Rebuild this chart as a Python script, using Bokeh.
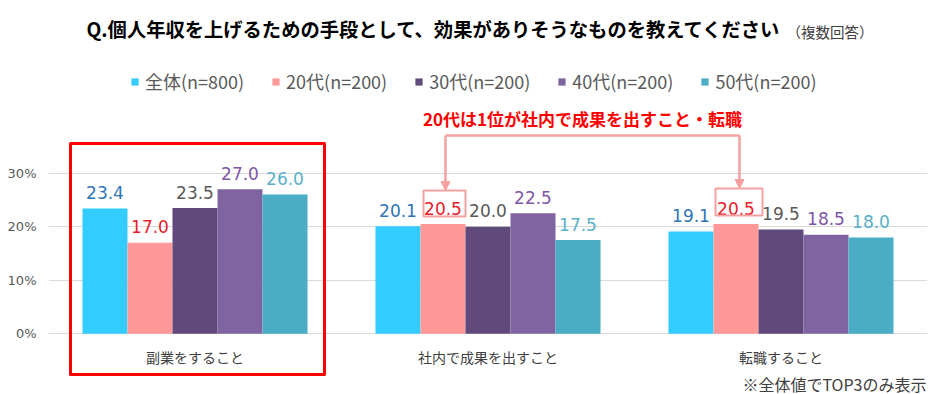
from bokeh.plotting import figure
from bokeh.models import (ColumnDataSource, FactorRange, Range1d, FixedTicker,
                          PrintfTickFormatter, Arrow, NormalHead)
from bokeh.transform import dodge
from bokeh.core.properties import value
from bokeh.embed import file_html
from bokeh.resources import INLINE

# ---------------- data ----------------
categories = ["副業をすること", "社内で成果を出すこと", "転職すること"]
series = ["全体(n=800)", "20代(n=200)", "30代(n=200)", "40代(n=200)", "50代(n=200)"]
zentai = [23.4, 20.1, 19.1]
age20 = [17.0, 20.5, 20.5]
age30 = [23.5, 20.0, 19.5]
age40 = [27.0, 22.5, 18.5]
age50 = [26.0, 17.5, 18.0]
y_ticks = [0, 10, 20, 30]

title_text = "Q.個人年収を上げるための手段として、効果がありそうなものを教えてください"
subtitle_text = "（複数回答）"
callout_text = "20代は1位が社内で成果を出すこと・転職"
footnote_text = "※全体値でTOP3のみ表示"

bar_colors = ["#33CCFF", "#FF9999", "#604A7B", "#8064A2", "#4BACC6"]
label_colors = ["#2E75B6", "#E8202A", "#595959", "#7F56A8", "#5AB0CA"]
pink = "#F7A0A0"
JP = "Noto Sans CJK JP"

# ---------------- layout helpers ----------------
W, H = 929, 394
LEFT, RIGHT = 48, 2
PAGE_X0, PAGE_Y0 = 0, 0
FRAME_W = W - LEFT - RIGHT
Y0_PAGE = 333.3
PX_PER_UNIT = 5.353


def py2y(py):
    return (Y0_PAGE - py) / PX_PER_UNIT


def px2x(px):
    return (px - PAGE_X0 - LEFT) / FRAME_W * 3


p = figure(width=W, height=H, output_backend="svg", toolbar_location=None,
           x_range=FactorRange(*categories, range_padding=0),
           y_range=Range1d(py2y(PAGE_Y0 + H), py2y(PAGE_Y0)),
           min_border_left=LEFT, min_border_right=RIGHT,
           min_border_top=0, min_border_bottom=0)
p.outline_line_color = None
p.background_fill_color = "white"
p.border_fill_color = "white"

p.xaxis.visible = False
p.xgrid.visible = False
p.yaxis.ticker = FixedTicker(ticks=y_ticks)
p.yaxis.formatter = PrintfTickFormatter(format="%d%%")
p.yaxis.axis_line_color = None
p.yaxis.major_tick_line_color = None
p.yaxis.minor_tick_line_color = None
p.yaxis.major_tick_out = 0
p.yaxis.major_tick_in = 0
p.yaxis.minor_tick_out = 0
p.yaxis.major_label_standoff = 12
p.yaxis.major_label_text_font = "DejaVu Sans"
p.yaxis.major_label_text_font_size = "13px"
p.yaxis.major_label_text_color = "#595959"
p.ygrid.ticker = FixedTicker(ticks=y_ticks)
p.ygrid.grid_line_color = "#D9D9D9"
p.ygrid.grid_line_width = 1

data = dict(cat=categories)
all_series = [zentai, age20, age30, age40, age50]
for j, vals in enumerate(all_series):
    data[f"s{j}"] = vals
    data[f"t{j}"] = [f"{v:.1f}" for v in vals]
src = ColumnDataSource(data)

group_w = 0.768
bw = group_w / len(series)
offsets = [(j - (len(series) - 1) / 2) * bw for j in range(len(series))]

for j in range(len(series)):
    p.vbar(x=dodge("cat", offsets[j], range=p.x_range), top=f"s{j}", width=bw,
           source=src, fill_color=bar_colors[j], line_color=None,
           legend_label=series[j])
for j in range(len(series)):
    p.text(x=dodge("cat", offsets[j], range=p.x_range), y=f"s{j}", text=f"t{j}",
           source=src, text_align="center", text_baseline="alphabetic",
           y_offset=-16, text_font=value("DejaVu Sans"),
           text_font_size="17px", text_color=label_colors[j])

# category labels
p.text(x="cat", y=0, text="cat", source=src, y_offset=23,
       text_align="center", text_baseline="middle",
       text_font=value(JP), text_font_size="14px", text_color="#404040")

# title
p.text(x=[px2x(781)], y=[py2y(28)], text=[title_text], text_align="right",
       text_baseline="middle", text_font=value(JP), text_font_style="bold",
       text_font_size="19.3px", text_color="#000000")
p.text(x=[px2x(786)], y=[py2y(31)], text=[subtitle_text], text_align="left",
       text_baseline="middle", text_font=value(JP),
       text_font_size="14.5px", text_color="#404040")

# footnote
p.text(x=[px2x(926)], y=[py2y(383)], text=[footnote_text], text_align="right",
       text_baseline="middle", text_font=value(JP),
       text_font_size="16px", text_color="#404040")

# red highlight box around first category
p.quad(left=[px2x(70)], right=[px2x(324)], top=[py2y(143)], bottom=[py2y(374)],
       fill_color=None, line_color="#FF0000", line_width=3, line_join="round")

# callout
p.text(x=[px2x(582)], y=[py2y(118)], text=[callout_text], text_align="center",
       text_baseline="middle", text_font=value(JP), text_font_style="bold",
       text_font_size="17px", text_color="#FF0000")

# boxes around 20代 labels in categories 2 and 3
p.quad(left=[px2x(423), px2x(715)], right=[px2x(465), px2x(762)],
       top=[py2y(190), py2y(188)], bottom=[py2y(216), py2y(215)],
       fill_color=None, line_color=pink, line_width=2)

# connector with arrows
xl, xr = px2x(445), px2x(739)
yh = py2y(135)
p.line(x=[xl, xr], y=[yh, yh], line_color=pink, line_width=2.5)
for xa, yt in [(xl, py2y(190)), (xr, py2y(188))]:
    p.add_layout(Arrow(end=NormalHead(size=9, fill_color=pink, line_color=pink),
                       x_start=xa, y_start=yh, x_end=xa, y_end=yt,
                       line_color=pink, line_width=2.5))

leg = p.legend[0]
leg.orientation = "horizontal"
leg.location = (82, H - 94)
leg.padding = 0
leg.margin = 0
leg.spacing = 27
leg.border_line_alpha = 0
leg.background_fill_alpha = 0
leg.glyph_width = 9
leg.glyph_height = 9
leg.label_standoff = 6
leg.label_text_font = JP
leg.label_text_font_size = "18px"
leg.label_text_color = "#595959"

open("out.html", "w").write(file_html(p, INLINE))
